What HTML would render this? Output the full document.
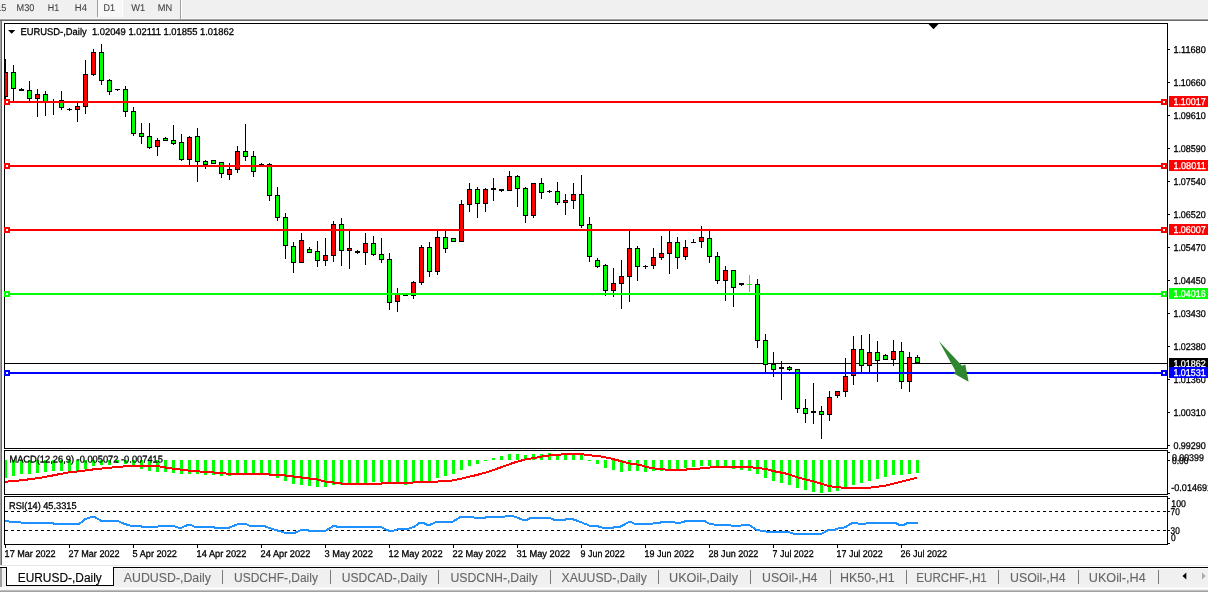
<!DOCTYPE html>
<html lang="en"><head><meta charset="utf-8"><title>EURUSD-,Daily</title>
<style>
html,body{margin:0;padding:0;background:#fff;overflow:hidden}
svg{display:block;position:absolute;left:0;top:0}
text{font-family:"Liberation Sans",sans-serif;white-space:pre}
</style></head><body>
<svg width="1208" height="592" viewBox="0 0 1208 592">
<rect x="0" y="0" width="1208" height="592" fill="#ffffff"/>
<rect x="0" y="0" width="1208" height="19" fill="#f0f0f0"/>
<rect x="0" y="18" width="1208" height="1" fill="#f6f6f6"/>
<rect x="0" y="19" width="1208" height="1" fill="#a0a0a0"/>
<rect x="0" y="20" width="1208" height="1" fill="#696969"/>
<rect x="0" y="21" width="1" height="544" fill="#a0a0a0"/>
<rect x="1" y="21" width="1" height="544" fill="#696969"/>
<rect x="97" y="0" width="1" height="17" fill="#a0a0a0"/>
<rect x="98" y="0" width="24" height="17" fill="#f8f8f8"/>
<rect x="122" y="0" width="1" height="17" fill="#ffffff"/>
<rect x="180" y="0" width="1" height="19" fill="#a0a0a0"/>
<rect x="181" y="0" width="1" height="19" fill="#ffffff"/>
<text transform="translate(-11.4 11) scale(1 1.0) rotate(0.03)" font-size="9.8" fill="#404040" textLength="17.8" lengthAdjust="spacingAndGlyphs" stroke="#404040" stroke-width="0.08">M15</text>
<text transform="translate(16.6 11) scale(1 1.0) rotate(0.03)" font-size="9.8" fill="#404040" textLength="17.8" lengthAdjust="spacingAndGlyphs" stroke="#404040" stroke-width="0.08">M30</text>
<text transform="translate(47.7 11) scale(1 1.0) rotate(0.03)" font-size="9.8" fill="#404040" textLength="11.4" lengthAdjust="spacingAndGlyphs" stroke="#404040" stroke-width="0.08">H1</text>
<text transform="translate(74.8 11) scale(1 1.0) rotate(0.03)" font-size="9.8" fill="#404040" textLength="12.1" lengthAdjust="spacingAndGlyphs" stroke="#404040" stroke-width="0.08">H4</text>
<text transform="translate(103.6 11) scale(1 1.0) rotate(0.03)" font-size="9.8" fill="#404040" textLength="11.5" lengthAdjust="spacingAndGlyphs" stroke="#404040" stroke-width="0.08">D1</text>
<text transform="translate(131.3 11) scale(1 1.0) rotate(0.03)" font-size="9.8" fill="#404040" textLength="13.9" lengthAdjust="spacingAndGlyphs" stroke="#404040" stroke-width="0.08">W1</text>
<text transform="translate(157.8 11) scale(1 1.0) rotate(0.03)" font-size="9.8" fill="#404040" textLength="14.4" lengthAdjust="spacingAndGlyphs" stroke="#404040" stroke-width="0.08">MN</text>
<rect x="0" y="565" width="1208" height="1" fill="#e6e6e6"/>
<rect x="0" y="566" width="1208" height="1" fill="#ffffff"/>
<rect x="0" y="567" width="1208" height="1" fill="#000000"/>
<rect x="0" y="568" width="1208" height="20" fill="#f0f0f0"/>
<rect x="0" y="568" width="1208" height="1" fill="#f8f8f8"/>
<rect x="0" y="587" width="1208" height="1" fill="#f8f8f8"/>
<rect x="0" y="588" width="1208" height="1" fill="#fcfcfc"/>
<rect x="0" y="589" width="1208" height="1" fill="#f0f0f0"/>
<rect x="0" y="590" width="1208" height="1" fill="#c0c0c0"/>
<rect x="0" y="591" width="1208" height="1" fill="#a0a0a0"/>
<rect x="0" y="568" width="2" height="19" fill="#a0a0a0"/>
<rect x="6" y="567" width="108" height="19" fill="#000000"/>
<rect x="7" y="566" width="106" height="19" fill="#ffffff"/>
<text x="17.7" y="582" font-size="12.5" fill="#000" textLength="84.1" lengthAdjust="spacingAndGlyphs" stroke="#000" stroke-width="0.15">EURUSD-,Daily</text>
<text x="123.8" y="582" font-size="12.5" fill="#666666" textLength="87.1" lengthAdjust="spacingAndGlyphs" stroke="#666666" stroke-width="0.1">AUDUSD-,Daily</text>
<text x="234.1" y="582" font-size="12.5" fill="#666666" textLength="83.8" lengthAdjust="spacingAndGlyphs" stroke="#666666" stroke-width="0.1">USDCHF-,Daily</text>
<text x="341.7" y="582" font-size="12.5" fill="#666666" textLength="85.5" lengthAdjust="spacingAndGlyphs" stroke="#666666" stroke-width="0.1">USDCAD-,Daily</text>
<text x="450.5" y="582" font-size="12.5" fill="#666666" textLength="87.1" lengthAdjust="spacingAndGlyphs" stroke="#666666" stroke-width="0.1">USDCNH-,Daily</text>
<text x="561.5" y="582" font-size="12.5" fill="#666666" textLength="85.4" lengthAdjust="spacingAndGlyphs" stroke="#666666" stroke-width="0.1">XAUUSD-,Daily</text>
<text x="669" y="582" font-size="12.5" fill="#666666" textLength="69" lengthAdjust="spacingAndGlyphs" stroke="#666666" stroke-width="0.1">UKOil-,Daily</text>
<text x="762" y="582" font-size="12.5" fill="#666666" textLength="55.4" lengthAdjust="spacingAndGlyphs" stroke="#666666" stroke-width="0.1">USOil-,H4</text>
<text x="840" y="582" font-size="12.5" fill="#666666" textLength="54.8" lengthAdjust="spacingAndGlyphs" stroke="#666666" stroke-width="0.1">HK50-,H1</text>
<text x="916.3" y="582" font-size="12.5" fill="#666666" textLength="70.5" lengthAdjust="spacingAndGlyphs" stroke="#666666" stroke-width="0.1">EURCHF-,H1</text>
<text x="1010" y="582" font-size="12.5" fill="#666666" textLength="55.6" lengthAdjust="spacingAndGlyphs" stroke="#666666" stroke-width="0.1">USOil-,H4</text>
<text x="1088.8" y="582" font-size="12.5" fill="#666666" textLength="56.9" lengthAdjust="spacingAndGlyphs" stroke="#666666" stroke-width="0.1">UKOil-,H4</text>
<rect x="222" y="570" width="1" height="14" fill="#7a7a7a"/>
<rect x="330" y="570" width="1" height="14" fill="#7a7a7a"/>
<rect x="438" y="570" width="1" height="14" fill="#7a7a7a"/>
<rect x="550" y="570" width="1" height="14" fill="#7a7a7a"/>
<rect x="658" y="570" width="1" height="14" fill="#7a7a7a"/>
<rect x="750" y="570" width="1" height="14" fill="#7a7a7a"/>
<rect x="830" y="570" width="1" height="14" fill="#7a7a7a"/>
<rect x="906" y="570" width="1" height="14" fill="#7a7a7a"/>
<rect x="998" y="570" width="1" height="14" fill="#7a7a7a"/>
<rect x="1078" y="570" width="1" height="14" fill="#7a7a7a"/>
<rect x="1158" y="570" width="1" height="14" fill="#7a7a7a"/>
<polygon points="1186.3,572.5 1186.3,579.5 1182.5,576" fill="#000"/>
<polygon points="1202,572.5 1202,579.5 1205.5,576" fill="#a8a8a8"/>
<g shape-rendering="crispEdges">
<rect x="4" y="23" width="1164" height="1" fill="#000"/>
<rect x="4" y="23" width="1" height="426" fill="#000"/>
<rect x="4" y="450" width="1" height="45" fill="#000"/>
<rect x="4" y="496" width="1" height="49" fill="#000"/>
<rect x="1167" y="23" width="1" height="426" fill="#000"/>
<rect x="1167" y="450" width="1" height="45" fill="#000"/>
<rect x="1167" y="496" width="1" height="49" fill="#000"/>
<rect x="4" y="448" width="1164" height="1" fill="#000"/>
<rect x="4" y="450" width="1164" height="1" fill="#000"/>
<rect x="4" y="494" width="1164" height="1" fill="#000"/>
<rect x="4" y="496" width="1164" height="1" fill="#000"/>
<rect x="4" y="544" width="1164" height="1" fill="#000"/>
<rect x="1168" y="49" width="2" height="1" fill="#000"/>
<rect x="1168" y="82" width="2" height="1" fill="#000"/>
<rect x="1168" y="115" width="2" height="1" fill="#000"/>
<rect x="1168" y="148" width="2" height="1" fill="#000"/>
<rect x="1168" y="181" width="2" height="1" fill="#000"/>
<rect x="1168" y="214" width="2" height="1" fill="#000"/>
<rect x="1168" y="247" width="2" height="1" fill="#000"/>
<rect x="1168" y="280" width="2" height="1" fill="#000"/>
<rect x="1168" y="313" width="2" height="1" fill="#000"/>
<rect x="1168" y="346" width="2" height="1" fill="#000"/>
<rect x="1168" y="379" width="2" height="1" fill="#000"/>
<rect x="1168" y="412" width="2" height="1" fill="#000"/>
<rect x="1168" y="445" width="2" height="1" fill="#000"/>
<rect x="1168" y="452" width="2" height="1" fill="#000"/>
<rect x="1168" y="460" width="2" height="1" fill="#000"/>
<rect x="1168" y="493" width="2" height="1" fill="#000"/>
<rect x="1168" y="498" width="2" height="1" fill="#000"/>
<rect x="1168" y="511" width="2" height="1" fill="#000"/>
<rect x="1168" y="530" width="2" height="1" fill="#000"/>
<rect x="1168" y="543" width="2" height="1" fill="#000"/>
<rect x="5" y="545" width="1" height="3" fill="#000"/>
<rect x="69" y="545" width="1" height="3" fill="#000"/>
<rect x="133" y="545" width="1" height="3" fill="#000"/>
<rect x="197" y="545" width="1" height="3" fill="#000"/>
<rect x="261" y="545" width="1" height="3" fill="#000"/>
<rect x="325" y="545" width="1" height="3" fill="#000"/>
<rect x="389" y="545" width="1" height="3" fill="#000"/>
<rect x="453" y="545" width="1" height="3" fill="#000"/>
<rect x="517" y="545" width="1" height="3" fill="#000"/>
<rect x="581" y="545" width="1" height="3" fill="#000"/>
<rect x="645" y="545" width="1" height="3" fill="#000"/>
<rect x="709" y="545" width="1" height="3" fill="#000"/>
<rect x="773" y="545" width="1" height="3" fill="#000"/>
<rect x="837" y="545" width="1" height="3" fill="#000"/>
<rect x="901" y="545" width="1" height="3" fill="#000"/>
<rect x="5" y="363" width="1162" height="1" fill="#000"/>
<rect x="5" y="59" width="1" height="40" fill="#000"/>
<rect x="3" y="72" width="5" height="25" fill="#000"/>
<rect x="4" y="73" width="3" height="23" fill="#ff0000"/>
<rect x="13" y="65" width="1" height="36" fill="#000"/>
<rect x="11" y="72" width="5" height="17" fill="#000"/>
<rect x="12" y="73" width="3" height="15" fill="#00ff00"/>
<rect x="21" y="88" width="1" height="3" fill="#000"/>
<rect x="19" y="89" width="5" height="2" fill="#000"/>
<rect x="29" y="81" width="1" height="20" fill="#000"/>
<rect x="27" y="90" width="5" height="9" fill="#000"/>
<rect x="28" y="91" width="3" height="7" fill="#00ff00"/>
<rect x="37" y="89" width="1" height="28" fill="#000"/>
<rect x="35" y="94" width="5" height="5" fill="#000"/>
<rect x="36" y="95" width="3" height="3" fill="#ff0000"/>
<rect x="45" y="91" width="1" height="25" fill="#000"/>
<rect x="43" y="94" width="5" height="9" fill="#000"/>
<rect x="44" y="95" width="3" height="7" fill="#00ff00"/>
<rect x="53" y="99" width="1" height="16" fill="#000"/>
<rect x="51" y="101" width="5" height="1" fill="#000"/>
<rect x="61" y="91" width="1" height="19" fill="#000"/>
<rect x="59" y="100" width="5" height="8" fill="#000"/>
<rect x="60" y="101" width="3" height="6" fill="#00ff00"/>
<rect x="69" y="108" width="1" height="3" fill="#000"/>
<rect x="67" y="109" width="5" height="1" fill="#000"/>
<rect x="77" y="103" width="1" height="19" fill="#000"/>
<rect x="75" y="106" width="5" height="4" fill="#000"/>
<rect x="76" y="107" width="3" height="2" fill="#ff0000"/>
<rect x="85" y="60" width="1" height="54" fill="#000"/>
<rect x="83" y="74" width="5" height="33" fill="#000"/>
<rect x="84" y="75" width="3" height="31" fill="#ff0000"/>
<rect x="93" y="49" width="1" height="27" fill="#000"/>
<rect x="91" y="52" width="5" height="23" fill="#000"/>
<rect x="92" y="53" width="3" height="21" fill="#ff0000"/>
<rect x="101" y="44" width="1" height="41" fill="#000"/>
<rect x="99" y="52" width="5" height="29" fill="#000"/>
<rect x="100" y="53" width="3" height="27" fill="#00ff00"/>
<rect x="109" y="79" width="1" height="16" fill="#000"/>
<rect x="107" y="80" width="5" height="12" fill="#000"/>
<rect x="108" y="81" width="3" height="10" fill="#00ff00"/>
<rect x="117" y="89" width="1" height="2" fill="#000"/>
<rect x="115" y="89" width="5" height="1" fill="#000"/>
<rect x="125" y="86" width="1" height="31" fill="#000"/>
<rect x="123" y="89" width="5" height="23" fill="#000"/>
<rect x="124" y="90" width="3" height="21" fill="#00ff00"/>
<rect x="133" y="107" width="1" height="29" fill="#000"/>
<rect x="131" y="111" width="5" height="23" fill="#000"/>
<rect x="132" y="112" width="3" height="21" fill="#00ff00"/>
<rect x="141" y="123" width="1" height="21" fill="#000"/>
<rect x="139" y="133" width="5" height="4" fill="#000"/>
<rect x="140" y="134" width="3" height="2" fill="#00ff00"/>
<rect x="149" y="123" width="1" height="26" fill="#000"/>
<rect x="147" y="136" width="5" height="12" fill="#000"/>
<rect x="148" y="137" width="3" height="10" fill="#00ff00"/>
<rect x="157" y="138" width="1" height="18" fill="#000"/>
<rect x="155" y="140" width="5" height="7" fill="#000"/>
<rect x="156" y="141" width="3" height="5" fill="#ff0000"/>
<rect x="165" y="137" width="1" height="4" fill="#000"/>
<rect x="163" y="138" width="5" height="3" fill="#000"/>
<rect x="164" y="139" width="3" height="1" fill="#00ff00"/>
<rect x="173" y="125" width="1" height="20" fill="#000"/>
<rect x="171" y="140" width="5" height="4" fill="#000"/>
<rect x="172" y="141" width="3" height="2" fill="#00ff00"/>
<rect x="181" y="134" width="1" height="27" fill="#000"/>
<rect x="179" y="142" width="5" height="18" fill="#000"/>
<rect x="180" y="143" width="3" height="16" fill="#00ff00"/>
<rect x="189" y="136" width="1" height="29" fill="#000"/>
<rect x="187" y="137" width="5" height="23" fill="#000"/>
<rect x="188" y="138" width="3" height="21" fill="#ff0000"/>
<rect x="197" y="128" width="1" height="54" fill="#000"/>
<rect x="195" y="136" width="5" height="26" fill="#000"/>
<rect x="196" y="137" width="3" height="24" fill="#00ff00"/>
<rect x="205" y="160" width="1" height="9" fill="#000"/>
<rect x="203" y="161" width="5" height="4" fill="#000"/>
<rect x="204" y="162" width="3" height="2" fill="#00ff00"/>
<rect x="213" y="160" width="1" height="4" fill="#000"/>
<rect x="211" y="160" width="5" height="4" fill="#000"/>
<rect x="212" y="161" width="3" height="2" fill="#00ff00"/>
<rect x="221" y="162" width="1" height="16" fill="#000"/>
<rect x="219" y="162" width="5" height="12" fill="#000"/>
<rect x="220" y="163" width="3" height="10" fill="#00ff00"/>
<rect x="229" y="163" width="1" height="17" fill="#000"/>
<rect x="227" y="169" width="5" height="6" fill="#000"/>
<rect x="228" y="170" width="3" height="4" fill="#ff0000"/>
<rect x="237" y="146" width="1" height="27" fill="#000"/>
<rect x="235" y="151" width="5" height="19" fill="#000"/>
<rect x="236" y="152" width="3" height="17" fill="#ff0000"/>
<rect x="245" y="124" width="1" height="37" fill="#000"/>
<rect x="243" y="151" width="5" height="6" fill="#000"/>
<rect x="244" y="152" width="3" height="4" fill="#00ff00"/>
<rect x="253" y="151" width="1" height="26" fill="#000"/>
<rect x="251" y="156" width="5" height="16" fill="#000"/>
<rect x="252" y="157" width="3" height="14" fill="#00ff00"/>
<rect x="261" y="163" width="1" height="2" fill="#000"/>
<rect x="259" y="164" width="5" height="1" fill="#000"/>
<rect x="269" y="163" width="1" height="38" fill="#000"/>
<rect x="267" y="164" width="5" height="32" fill="#000"/>
<rect x="268" y="165" width="3" height="30" fill="#00ff00"/>
<rect x="277" y="187" width="1" height="34" fill="#000"/>
<rect x="275" y="195" width="5" height="23" fill="#000"/>
<rect x="276" y="196" width="3" height="21" fill="#00ff00"/>
<rect x="285" y="213" width="1" height="46" fill="#000"/>
<rect x="283" y="217" width="5" height="29" fill="#000"/>
<rect x="284" y="218" width="3" height="27" fill="#00ff00"/>
<rect x="293" y="242" width="1" height="31" fill="#000"/>
<rect x="291" y="246" width="5" height="17" fill="#000"/>
<rect x="292" y="247" width="3" height="15" fill="#00ff00"/>
<rect x="301" y="233" width="1" height="30" fill="#000"/>
<rect x="299" y="240" width="5" height="23" fill="#000"/>
<rect x="300" y="241" width="3" height="21" fill="#ff0000"/>
<rect x="309" y="247" width="1" height="6" fill="#000"/>
<rect x="307" y="249" width="5" height="4" fill="#000"/>
<rect x="308" y="250" width="3" height="2" fill="#00ff00"/>
<rect x="317" y="241" width="1" height="26" fill="#000"/>
<rect x="315" y="251" width="5" height="10" fill="#000"/>
<rect x="316" y="252" width="3" height="8" fill="#00ff00"/>
<rect x="325" y="238" width="1" height="28" fill="#000"/>
<rect x="323" y="255" width="5" height="6" fill="#000"/>
<rect x="324" y="256" width="3" height="4" fill="#ff0000"/>
<rect x="333" y="221" width="1" height="41" fill="#000"/>
<rect x="331" y="224" width="5" height="32" fill="#000"/>
<rect x="332" y="225" width="3" height="30" fill="#ff0000"/>
<rect x="341" y="218" width="1" height="48" fill="#000"/>
<rect x="339" y="224" width="5" height="27" fill="#000"/>
<rect x="340" y="225" width="3" height="25" fill="#00ff00"/>
<rect x="349" y="231" width="1" height="38" fill="#000"/>
<rect x="347" y="248" width="5" height="3" fill="#000"/>
<rect x="348" y="249" width="3" height="1" fill="#ff0000"/>
<rect x="357" y="250" width="1" height="4" fill="#000"/>
<rect x="355" y="251" width="5" height="2" fill="#000"/>
<rect x="365" y="233" width="1" height="32" fill="#000"/>
<rect x="363" y="243" width="5" height="10" fill="#000"/>
<rect x="364" y="244" width="3" height="8" fill="#ff0000"/>
<rect x="373" y="236" width="1" height="20" fill="#000"/>
<rect x="371" y="243" width="5" height="12" fill="#000"/>
<rect x="372" y="244" width="3" height="10" fill="#00ff00"/>
<rect x="381" y="238" width="1" height="25" fill="#000"/>
<rect x="379" y="254" width="5" height="6" fill="#000"/>
<rect x="380" y="255" width="3" height="4" fill="#00ff00"/>
<rect x="389" y="253" width="1" height="57" fill="#000"/>
<rect x="387" y="259" width="5" height="44" fill="#000"/>
<rect x="388" y="260" width="3" height="42" fill="#00ff00"/>
<rect x="397" y="288" width="1" height="24" fill="#000"/>
<rect x="395" y="294" width="5" height="8" fill="#000"/>
<rect x="396" y="295" width="3" height="6" fill="#ff0000"/>
<rect x="405" y="295" width="1" height="1" fill="#000"/>
<rect x="403" y="295" width="5" height="1" fill="#000"/>
<rect x="413" y="281" width="1" height="18" fill="#000"/>
<rect x="411" y="282" width="5" height="14" fill="#000"/>
<rect x="412" y="283" width="3" height="12" fill="#ff0000"/>
<rect x="421" y="245" width="1" height="40" fill="#000"/>
<rect x="419" y="247" width="5" height="36" fill="#000"/>
<rect x="420" y="248" width="3" height="34" fill="#ff0000"/>
<rect x="429" y="242" width="1" height="35" fill="#000"/>
<rect x="427" y="247" width="5" height="25" fill="#000"/>
<rect x="428" y="248" width="3" height="23" fill="#00ff00"/>
<rect x="437" y="231" width="1" height="44" fill="#000"/>
<rect x="435" y="237" width="5" height="35" fill="#000"/>
<rect x="436" y="238" width="3" height="33" fill="#ff0000"/>
<rect x="445" y="231" width="1" height="22" fill="#000"/>
<rect x="443" y="237" width="5" height="12" fill="#000"/>
<rect x="444" y="238" width="3" height="10" fill="#00ff00"/>
<rect x="453" y="238" width="1" height="4" fill="#000"/>
<rect x="451" y="238" width="5" height="4" fill="#000"/>
<rect x="452" y="239" width="3" height="2" fill="#00ff00"/>
<rect x="461" y="200" width="1" height="42" fill="#000"/>
<rect x="459" y="204" width="5" height="38" fill="#000"/>
<rect x="460" y="205" width="3" height="36" fill="#ff0000"/>
<rect x="469" y="183" width="1" height="29" fill="#000"/>
<rect x="467" y="189" width="5" height="16" fill="#000"/>
<rect x="468" y="190" width="3" height="14" fill="#ff0000"/>
<rect x="477" y="187" width="1" height="31" fill="#000"/>
<rect x="475" y="189" width="5" height="15" fill="#000"/>
<rect x="476" y="190" width="3" height="13" fill="#00ff00"/>
<rect x="485" y="188" width="1" height="24" fill="#000"/>
<rect x="483" y="189" width="5" height="15" fill="#000"/>
<rect x="484" y="190" width="3" height="13" fill="#ff0000"/>
<rect x="493" y="178" width="1" height="23" fill="#000"/>
<rect x="491" y="188" width="5" height="2" fill="#000"/>
<rect x="501" y="189" width="1" height="3" fill="#000"/>
<rect x="499" y="189" width="5" height="2" fill="#000"/>
<rect x="509" y="171" width="1" height="20" fill="#000"/>
<rect x="507" y="176" width="5" height="15" fill="#000"/>
<rect x="508" y="177" width="3" height="13" fill="#ff0000"/>
<rect x="517" y="175" width="1" height="32" fill="#000"/>
<rect x="515" y="176" width="5" height="13" fill="#000"/>
<rect x="516" y="177" width="3" height="11" fill="#00ff00"/>
<rect x="525" y="187" width="1" height="36" fill="#000"/>
<rect x="523" y="188" width="5" height="28" fill="#000"/>
<rect x="524" y="189" width="3" height="26" fill="#00ff00"/>
<rect x="533" y="183" width="1" height="35" fill="#000"/>
<rect x="531" y="183" width="5" height="33" fill="#000"/>
<rect x="532" y="184" width="3" height="31" fill="#ff0000"/>
<rect x="541" y="178" width="1" height="21" fill="#000"/>
<rect x="539" y="183" width="5" height="10" fill="#000"/>
<rect x="540" y="184" width="3" height="8" fill="#00ff00"/>
<rect x="549" y="190" width="1" height="3" fill="#000"/>
<rect x="547" y="191" width="5" height="1" fill="#000"/>
<rect x="557" y="182" width="1" height="23" fill="#000"/>
<rect x="555" y="191" width="5" height="12" fill="#000"/>
<rect x="556" y="192" width="3" height="10" fill="#00ff00"/>
<rect x="565" y="194" width="1" height="21" fill="#000"/>
<rect x="563" y="200" width="5" height="3" fill="#000"/>
<rect x="564" y="201" width="3" height="1" fill="#ff0000"/>
<rect x="573" y="183" width="1" height="26" fill="#000"/>
<rect x="571" y="194" width="5" height="7" fill="#000"/>
<rect x="572" y="195" width="3" height="5" fill="#ff0000"/>
<rect x="581" y="175" width="1" height="53" fill="#000"/>
<rect x="579" y="194" width="5" height="32" fill="#000"/>
<rect x="580" y="195" width="3" height="30" fill="#00ff00"/>
<rect x="589" y="217" width="1" height="45" fill="#000"/>
<rect x="587" y="224" width="5" height="33" fill="#000"/>
<rect x="588" y="225" width="3" height="31" fill="#00ff00"/>
<rect x="597" y="258" width="1" height="10" fill="#000"/>
<rect x="595" y="260" width="5" height="7" fill="#000"/>
<rect x="596" y="261" width="3" height="5" fill="#00ff00"/>
<rect x="605" y="264" width="1" height="32" fill="#000"/>
<rect x="603" y="265" width="5" height="26" fill="#000"/>
<rect x="604" y="266" width="3" height="24" fill="#00ff00"/>
<rect x="613" y="268" width="1" height="29" fill="#000"/>
<rect x="611" y="283" width="5" height="8" fill="#000"/>
<rect x="612" y="284" width="3" height="6" fill="#ff0000"/>
<rect x="621" y="260" width="1" height="49" fill="#000"/>
<rect x="619" y="276" width="5" height="8" fill="#000"/>
<rect x="620" y="277" width="3" height="6" fill="#ff0000"/>
<rect x="629" y="231" width="1" height="71" fill="#000"/>
<rect x="627" y="248" width="5" height="29" fill="#000"/>
<rect x="628" y="249" width="3" height="27" fill="#ff0000"/>
<rect x="637" y="246" width="1" height="35" fill="#000"/>
<rect x="635" y="248" width="5" height="19" fill="#000"/>
<rect x="636" y="249" width="3" height="17" fill="#00ff00"/>
<rect x="645" y="265" width="1" height="4" fill="#000"/>
<rect x="643" y="266" width="5" height="1" fill="#000"/>
<rect x="653" y="248" width="1" height="21" fill="#000"/>
<rect x="651" y="257" width="5" height="9" fill="#000"/>
<rect x="652" y="258" width="3" height="7" fill="#ff0000"/>
<rect x="661" y="236" width="1" height="24" fill="#000"/>
<rect x="659" y="253" width="5" height="5" fill="#000"/>
<rect x="660" y="254" width="3" height="3" fill="#ff0000"/>
<rect x="669" y="231" width="1" height="43" fill="#000"/>
<rect x="667" y="242" width="5" height="12" fill="#000"/>
<rect x="668" y="243" width="3" height="10" fill="#ff0000"/>
<rect x="677" y="237" width="1" height="32" fill="#000"/>
<rect x="675" y="242" width="5" height="16" fill="#000"/>
<rect x="676" y="243" width="3" height="14" fill="#00ff00"/>
<rect x="685" y="240" width="1" height="20" fill="#000"/>
<rect x="683" y="247" width="5" height="10" fill="#000"/>
<rect x="684" y="248" width="3" height="8" fill="#ff0000"/>
<rect x="693" y="239" width="1" height="4" fill="#000"/>
<rect x="691" y="242" width="5" height="1" fill="#000"/>
<rect x="701" y="226" width="1" height="22" fill="#000"/>
<rect x="699" y="237" width="5" height="5" fill="#000"/>
<rect x="700" y="238" width="3" height="3" fill="#ff0000"/>
<rect x="709" y="231" width="1" height="32" fill="#000"/>
<rect x="707" y="238" width="5" height="19" fill="#000"/>
<rect x="708" y="239" width="3" height="17" fill="#00ff00"/>
<rect x="717" y="252" width="1" height="32" fill="#000"/>
<rect x="715" y="256" width="5" height="25" fill="#000"/>
<rect x="716" y="257" width="3" height="23" fill="#00ff00"/>
<rect x="725" y="266" width="1" height="35" fill="#000"/>
<rect x="723" y="270" width="5" height="11" fill="#000"/>
<rect x="724" y="271" width="3" height="9" fill="#ff0000"/>
<rect x="733" y="270" width="1" height="37" fill="#000"/>
<rect x="731" y="270" width="5" height="18" fill="#000"/>
<rect x="732" y="271" width="3" height="16" fill="#00ff00"/>
<rect x="741" y="283" width="1" height="3" fill="#000"/>
<rect x="739" y="283" width="5" height="2" fill="#000"/>
<rect x="749" y="275" width="1" height="17" fill="#00ff00"/>
<rect x="747" y="284" width="5" height="1" fill="#00ff00"/>
<rect x="757" y="279" width="1" height="69" fill="#000"/>
<rect x="755" y="284" width="5" height="57" fill="#000"/>
<rect x="756" y="285" width="3" height="55" fill="#00ff00"/>
<rect x="765" y="334" width="1" height="38" fill="#000"/>
<rect x="763" y="340" width="5" height="25" fill="#000"/>
<rect x="764" y="341" width="3" height="23" fill="#00ff00"/>
<rect x="773" y="352" width="1" height="25" fill="#000"/>
<rect x="771" y="364" width="5" height="6" fill="#000"/>
<rect x="772" y="365" width="3" height="4" fill="#00ff00"/>
<rect x="781" y="361" width="1" height="39" fill="#000"/>
<rect x="779" y="367" width="5" height="2" fill="#000"/>
<rect x="789" y="366" width="1" height="5" fill="#000"/>
<rect x="787" y="367" width="5" height="3" fill="#000"/>
<rect x="788" y="368" width="3" height="1" fill="#00ff00"/>
<rect x="797" y="369" width="1" height="44" fill="#000"/>
<rect x="795" y="369" width="5" height="40" fill="#000"/>
<rect x="796" y="370" width="3" height="38" fill="#00ff00"/>
<rect x="805" y="399" width="1" height="24" fill="#000"/>
<rect x="803" y="408" width="5" height="6" fill="#000"/>
<rect x="804" y="409" width="3" height="4" fill="#00ff00"/>
<rect x="813" y="383" width="1" height="41" fill="#000"/>
<rect x="811" y="411" width="5" height="2" fill="#000"/>
<rect x="821" y="406" width="1" height="33" fill="#000"/>
<rect x="819" y="411" width="5" height="4" fill="#000"/>
<rect x="820" y="412" width="3" height="2" fill="#00ff00"/>
<rect x="829" y="391" width="1" height="30" fill="#000"/>
<rect x="827" y="397" width="5" height="18" fill="#000"/>
<rect x="828" y="398" width="3" height="16" fill="#ff0000"/>
<rect x="837" y="391" width="1" height="7" fill="#000"/>
<rect x="835" y="391" width="5" height="5" fill="#000"/>
<rect x="836" y="392" width="3" height="3" fill="#ff0000"/>
<rect x="845" y="358" width="1" height="39" fill="#000"/>
<rect x="843" y="376" width="5" height="16" fill="#000"/>
<rect x="844" y="377" width="3" height="14" fill="#ff0000"/>
<rect x="853" y="336" width="1" height="49" fill="#000"/>
<rect x="851" y="349" width="5" height="27" fill="#000"/>
<rect x="852" y="350" width="3" height="25" fill="#ff0000"/>
<rect x="861" y="335" width="1" height="37" fill="#000"/>
<rect x="859" y="349" width="5" height="17" fill="#000"/>
<rect x="860" y="350" width="3" height="15" fill="#00ff00"/>
<rect x="869" y="334" width="1" height="38" fill="#000"/>
<rect x="867" y="352" width="5" height="14" fill="#000"/>
<rect x="868" y="353" width="3" height="12" fill="#ff0000"/>
<rect x="877" y="341" width="1" height="41" fill="#000"/>
<rect x="875" y="352" width="5" height="9" fill="#000"/>
<rect x="876" y="353" width="3" height="7" fill="#00ff00"/>
<rect x="885" y="354" width="1" height="6" fill="#000"/>
<rect x="883" y="355" width="5" height="5" fill="#000"/>
<rect x="884" y="356" width="3" height="3" fill="#00ff00"/>
<rect x="893" y="340" width="1" height="26" fill="#000"/>
<rect x="891" y="351" width="5" height="9" fill="#000"/>
<rect x="892" y="352" width="3" height="7" fill="#ff0000"/>
<rect x="901" y="342" width="1" height="47" fill="#000"/>
<rect x="899" y="351" width="5" height="31" fill="#000"/>
<rect x="900" y="352" width="3" height="29" fill="#00ff00"/>
<rect x="909" y="352" width="1" height="40" fill="#000"/>
<rect x="907" y="357" width="5" height="25" fill="#000"/>
<rect x="908" y="358" width="3" height="23" fill="#ff0000"/>
<rect x="917" y="355" width="1" height="8" fill="#000"/>
<rect x="915" y="357" width="5" height="6" fill="#000"/>
<rect x="916" y="358" width="3" height="4" fill="#00ff00"/>
<rect x="2" y="24" width="2" height="424" fill="#fff"/>
<rect x="4" y="23" width="1" height="426" fill="#000"/>
<rect x="4" y="450" width="1" height="45" fill="#000"/>
<rect x="4" y="496" width="1" height="49" fill="#000"/>
<rect x="1167" y="23" width="1" height="426" fill="#000"/>
<rect x="1167" y="450" width="1" height="45" fill="#000"/>
<rect x="1167" y="496" width="1" height="49" fill="#000"/>
<rect x="5" y="101" width="1162" height="2" fill="#ff0000"/>
<rect x="4" y="99" width="6" height="6" fill="#ff0000"/>
<rect x="6" y="101" width="2" height="2" fill="#fff"/>
<rect x="1161" y="99" width="6" height="6" fill="#ff0000"/>
<rect x="1163" y="101" width="2" height="2" fill="#fff"/>
<rect x="1169" y="96" width="39" height="11" fill="#ff0000"/>
<rect x="5" y="165" width="1162" height="2" fill="#ff0000"/>
<rect x="4" y="163" width="6" height="6" fill="#ff0000"/>
<rect x="6" y="165" width="2" height="2" fill="#fff"/>
<rect x="1161" y="163" width="6" height="6" fill="#ff0000"/>
<rect x="1163" y="165" width="2" height="2" fill="#fff"/>
<rect x="1169" y="160" width="39" height="11" fill="#ff0000"/>
<rect x="5" y="229" width="1162" height="2" fill="#ff0000"/>
<rect x="4" y="227" width="6" height="6" fill="#ff0000"/>
<rect x="6" y="229" width="2" height="2" fill="#fff"/>
<rect x="1161" y="227" width="6" height="6" fill="#ff0000"/>
<rect x="1163" y="229" width="2" height="2" fill="#fff"/>
<rect x="1169" y="224" width="39" height="11" fill="#ff0000"/>
<rect x="5" y="293" width="1162" height="2" fill="#00ff00"/>
<rect x="4" y="291" width="6" height="6" fill="#00ff00"/>
<rect x="6" y="293" width="2" height="2" fill="#fff"/>
<rect x="1161" y="291" width="6" height="6" fill="#00ff00"/>
<rect x="1163" y="293" width="2" height="2" fill="#fff"/>
<rect x="1169" y="288" width="39" height="11" fill="#00ff00"/>
<rect x="1169" y="358" width="39" height="11" fill="#000"/>
<rect x="5" y="372" width="1162" height="2" fill="#0000ff"/>
<rect x="4" y="370" width="6" height="6" fill="#0000ff"/>
<rect x="6" y="372" width="2" height="2" fill="#fff"/>
<rect x="1161" y="370" width="6" height="6" fill="#0000ff"/>
<rect x="1163" y="372" width="2" height="2" fill="#fff"/>
<rect x="1169" y="367" width="39" height="11" fill="#0000ff"/>
<rect x="4" y="23" width="1" height="426" fill="#000"/>
<rect x="4" y="450" width="1" height="45" fill="#000"/>
<rect x="4" y="496" width="1" height="49" fill="#000"/>
<rect x="1167" y="23" width="1" height="426" fill="#000"/>
<rect x="1167" y="450" width="1" height="45" fill="#000"/>
<rect x="1167" y="496" width="1" height="49" fill="#000"/>
<rect x="4" y="460" width="3" height="18" fill="#00ff00"/>
<rect x="12" y="460" width="3" height="16" fill="#00ff00"/>
<rect x="20" y="460" width="3" height="14" fill="#00ff00"/>
<rect x="28" y="460" width="3" height="14" fill="#00ff00"/>
<rect x="36" y="460" width="3" height="13" fill="#00ff00"/>
<rect x="44" y="460" width="3" height="12" fill="#00ff00"/>
<rect x="52" y="460" width="3" height="11" fill="#00ff00"/>
<rect x="60" y="460" width="3" height="11" fill="#00ff00"/>
<rect x="68" y="460" width="3" height="11" fill="#00ff00"/>
<rect x="76" y="460" width="3" height="11" fill="#00ff00"/>
<rect x="84" y="460" width="3" height="9" fill="#00ff00"/>
<rect x="92" y="460" width="3" height="6" fill="#00ff00"/>
<rect x="100" y="460" width="3" height="5" fill="#00ff00"/>
<rect x="108" y="460" width="3" height="5" fill="#00ff00"/>
<rect x="116" y="460" width="3" height="3" fill="#00ff00"/>
<rect x="124" y="460" width="3" height="4" fill="#00ff00"/>
<rect x="132" y="460" width="3" height="6" fill="#00ff00"/>
<rect x="140" y="460" width="3" height="9" fill="#00ff00"/>
<rect x="148" y="460" width="3" height="11" fill="#00ff00"/>
<rect x="156" y="460" width="3" height="12" fill="#00ff00"/>
<rect x="164" y="460" width="3" height="12" fill="#00ff00"/>
<rect x="172" y="460" width="3" height="13" fill="#00ff00"/>
<rect x="180" y="460" width="3" height="14" fill="#00ff00"/>
<rect x="188" y="460" width="3" height="14" fill="#00ff00"/>
<rect x="196" y="460" width="3" height="14" fill="#00ff00"/>
<rect x="204" y="460" width="3" height="15" fill="#00ff00"/>
<rect x="212" y="460" width="3" height="15" fill="#00ff00"/>
<rect x="220" y="460" width="3" height="16" fill="#00ff00"/>
<rect x="228" y="460" width="3" height="16" fill="#00ff00"/>
<rect x="236" y="460" width="3" height="14" fill="#00ff00"/>
<rect x="244" y="460" width="3" height="14" fill="#00ff00"/>
<rect x="252" y="460" width="3" height="14" fill="#00ff00"/>
<rect x="260" y="460" width="3" height="14" fill="#00ff00"/>
<rect x="268" y="460" width="3" height="15" fill="#00ff00"/>
<rect x="276" y="460" width="3" height="18" fill="#00ff00"/>
<rect x="284" y="460" width="3" height="21" fill="#00ff00"/>
<rect x="292" y="460" width="3" height="24" fill="#00ff00"/>
<rect x="300" y="460" width="3" height="25" fill="#00ff00"/>
<rect x="308" y="460" width="3" height="26" fill="#00ff00"/>
<rect x="316" y="460" width="3" height="27" fill="#00ff00"/>
<rect x="324" y="460" width="3" height="27" fill="#00ff00"/>
<rect x="332" y="460" width="3" height="25" fill="#00ff00"/>
<rect x="340" y="460" width="3" height="25" fill="#00ff00"/>
<rect x="348" y="460" width="3" height="23" fill="#00ff00"/>
<rect x="356" y="460" width="3" height="23" fill="#00ff00"/>
<rect x="364" y="460" width="3" height="23" fill="#00ff00"/>
<rect x="372" y="460" width="3" height="22" fill="#00ff00"/>
<rect x="380" y="460" width="3" height="22" fill="#00ff00"/>
<rect x="388" y="460" width="3" height="23" fill="#00ff00"/>
<rect x="396" y="460" width="3" height="24" fill="#00ff00"/>
<rect x="404" y="460" width="3" height="25" fill="#00ff00"/>
<rect x="412" y="460" width="3" height="23" fill="#00ff00"/>
<rect x="420" y="460" width="3" height="23" fill="#00ff00"/>
<rect x="428" y="460" width="3" height="21" fill="#00ff00"/>
<rect x="436" y="460" width="3" height="18" fill="#00ff00"/>
<rect x="444" y="460" width="3" height="16" fill="#00ff00"/>
<rect x="452" y="460" width="3" height="14" fill="#00ff00"/>
<rect x="460" y="460" width="3" height="10" fill="#00ff00"/>
<rect x="468" y="460" width="3" height="6" fill="#00ff00"/>
<rect x="476" y="460" width="3" height="4" fill="#00ff00"/>
<rect x="484" y="460" width="3" height="1" fill="#00ff00"/>
<rect x="492" y="458" width="3" height="2" fill="#00ff00"/>
<rect x="500" y="456" width="3" height="4" fill="#00ff00"/>
<rect x="508" y="454" width="3" height="6" fill="#00ff00"/>
<rect x="516" y="454" width="3" height="6" fill="#00ff00"/>
<rect x="524" y="455" width="3" height="5" fill="#00ff00"/>
<rect x="532" y="454" width="3" height="6" fill="#00ff00"/>
<rect x="540" y="454" width="3" height="6" fill="#00ff00"/>
<rect x="548" y="453" width="3" height="7" fill="#00ff00"/>
<rect x="556" y="454" width="3" height="6" fill="#00ff00"/>
<rect x="564" y="454" width="3" height="6" fill="#00ff00"/>
<rect x="572" y="454" width="3" height="6" fill="#00ff00"/>
<rect x="580" y="455" width="3" height="5" fill="#00ff00"/>
<rect x="588" y="460" width="3" height="1" fill="#00ff00"/>
<rect x="596" y="460" width="3" height="4" fill="#00ff00"/>
<rect x="604" y="460" width="3" height="8" fill="#00ff00"/>
<rect x="612" y="460" width="3" height="10" fill="#00ff00"/>
<rect x="620" y="460" width="3" height="12" fill="#00ff00"/>
<rect x="628" y="460" width="3" height="11" fill="#00ff00"/>
<rect x="636" y="460" width="3" height="11" fill="#00ff00"/>
<rect x="644" y="460" width="3" height="12" fill="#00ff00"/>
<rect x="652" y="460" width="3" height="11" fill="#00ff00"/>
<rect x="660" y="460" width="3" height="11" fill="#00ff00"/>
<rect x="668" y="460" width="3" height="9" fill="#00ff00"/>
<rect x="676" y="460" width="3" height="10" fill="#00ff00"/>
<rect x="684" y="460" width="3" height="8" fill="#00ff00"/>
<rect x="692" y="460" width="3" height="7" fill="#00ff00"/>
<rect x="700" y="460" width="3" height="6" fill="#00ff00"/>
<rect x="708" y="460" width="3" height="6" fill="#00ff00"/>
<rect x="716" y="460" width="3" height="7" fill="#00ff00"/>
<rect x="724" y="460" width="3" height="7" fill="#00ff00"/>
<rect x="732" y="460" width="3" height="9" fill="#00ff00"/>
<rect x="740" y="460" width="3" height="10" fill="#00ff00"/>
<rect x="748" y="460" width="3" height="11" fill="#00ff00"/>
<rect x="756" y="460" width="3" height="14" fill="#00ff00"/>
<rect x="764" y="460" width="3" height="18" fill="#00ff00"/>
<rect x="772" y="460" width="3" height="21" fill="#00ff00"/>
<rect x="780" y="460" width="3" height="23" fill="#00ff00"/>
<rect x="788" y="460" width="3" height="25" fill="#00ff00"/>
<rect x="796" y="460" width="3" height="28" fill="#00ff00"/>
<rect x="804" y="460" width="3" height="30" fill="#00ff00"/>
<rect x="812" y="460" width="3" height="32" fill="#00ff00"/>
<rect x="820" y="460" width="3" height="33" fill="#00ff00"/>
<rect x="828" y="460" width="3" height="32" fill="#00ff00"/>
<rect x="836" y="460" width="3" height="31" fill="#00ff00"/>
<rect x="844" y="460" width="3" height="28" fill="#00ff00"/>
<rect x="852" y="460" width="3" height="25" fill="#00ff00"/>
<rect x="860" y="460" width="3" height="23" fill="#00ff00"/>
<rect x="868" y="460" width="3" height="21" fill="#00ff00"/>
<rect x="876" y="460" width="3" height="19" fill="#00ff00"/>
<rect x="884" y="460" width="3" height="17" fill="#00ff00"/>
<rect x="892" y="460" width="3" height="15" fill="#00ff00"/>
<rect x="900" y="460" width="3" height="15" fill="#00ff00"/>
<rect x="908" y="460" width="3" height="14" fill="#00ff00"/>
<rect x="916" y="460" width="3" height="13" fill="#00ff00"/>
<rect x="2" y="451" width="2" height="43" fill="#fff"/>
<rect x="4" y="23" width="1" height="426" fill="#000"/>
<rect x="4" y="450" width="1" height="45" fill="#000"/>
<rect x="4" y="496" width="1" height="49" fill="#000"/>
<rect x="1167" y="23" width="1" height="426" fill="#000"/>
<rect x="1167" y="450" width="1" height="45" fill="#000"/>
<rect x="1167" y="496" width="1" height="49" fill="#000"/>
<rect x="5" y="511" width="3" height="1" fill="#000"/>
<rect x="11" y="511" width="3" height="1" fill="#000"/>
<rect x="17" y="511" width="3" height="1" fill="#000"/>
<rect x="23" y="511" width="3" height="1" fill="#000"/>
<rect x="29" y="511" width="3" height="1" fill="#000"/>
<rect x="35" y="511" width="3" height="1" fill="#000"/>
<rect x="41" y="511" width="3" height="1" fill="#000"/>
<rect x="47" y="511" width="3" height="1" fill="#000"/>
<rect x="53" y="511" width="3" height="1" fill="#000"/>
<rect x="59" y="511" width="3" height="1" fill="#000"/>
<rect x="65" y="511" width="3" height="1" fill="#000"/>
<rect x="71" y="511" width="3" height="1" fill="#000"/>
<rect x="77" y="511" width="3" height="1" fill="#000"/>
<rect x="83" y="511" width="3" height="1" fill="#000"/>
<rect x="89" y="511" width="3" height="1" fill="#000"/>
<rect x="95" y="511" width="3" height="1" fill="#000"/>
<rect x="101" y="511" width="3" height="1" fill="#000"/>
<rect x="107" y="511" width="3" height="1" fill="#000"/>
<rect x="113" y="511" width="3" height="1" fill="#000"/>
<rect x="119" y="511" width="3" height="1" fill="#000"/>
<rect x="125" y="511" width="3" height="1" fill="#000"/>
<rect x="131" y="511" width="3" height="1" fill="#000"/>
<rect x="137" y="511" width="3" height="1" fill="#000"/>
<rect x="143" y="511" width="3" height="1" fill="#000"/>
<rect x="149" y="511" width="3" height="1" fill="#000"/>
<rect x="155" y="511" width="3" height="1" fill="#000"/>
<rect x="161" y="511" width="3" height="1" fill="#000"/>
<rect x="167" y="511" width="3" height="1" fill="#000"/>
<rect x="173" y="511" width="3" height="1" fill="#000"/>
<rect x="179" y="511" width="3" height="1" fill="#000"/>
<rect x="185" y="511" width="3" height="1" fill="#000"/>
<rect x="191" y="511" width="3" height="1" fill="#000"/>
<rect x="197" y="511" width="3" height="1" fill="#000"/>
<rect x="203" y="511" width="3" height="1" fill="#000"/>
<rect x="209" y="511" width="3" height="1" fill="#000"/>
<rect x="215" y="511" width="3" height="1" fill="#000"/>
<rect x="221" y="511" width="3" height="1" fill="#000"/>
<rect x="227" y="511" width="3" height="1" fill="#000"/>
<rect x="233" y="511" width="3" height="1" fill="#000"/>
<rect x="239" y="511" width="3" height="1" fill="#000"/>
<rect x="245" y="511" width="3" height="1" fill="#000"/>
<rect x="251" y="511" width="3" height="1" fill="#000"/>
<rect x="257" y="511" width="3" height="1" fill="#000"/>
<rect x="263" y="511" width="3" height="1" fill="#000"/>
<rect x="269" y="511" width="3" height="1" fill="#000"/>
<rect x="275" y="511" width="3" height="1" fill="#000"/>
<rect x="281" y="511" width="3" height="1" fill="#000"/>
<rect x="287" y="511" width="3" height="1" fill="#000"/>
<rect x="293" y="511" width="3" height="1" fill="#000"/>
<rect x="299" y="511" width="3" height="1" fill="#000"/>
<rect x="305" y="511" width="3" height="1" fill="#000"/>
<rect x="311" y="511" width="3" height="1" fill="#000"/>
<rect x="317" y="511" width="3" height="1" fill="#000"/>
<rect x="323" y="511" width="3" height="1" fill="#000"/>
<rect x="329" y="511" width="3" height="1" fill="#000"/>
<rect x="335" y="511" width="3" height="1" fill="#000"/>
<rect x="341" y="511" width="3" height="1" fill="#000"/>
<rect x="347" y="511" width="3" height="1" fill="#000"/>
<rect x="353" y="511" width="3" height="1" fill="#000"/>
<rect x="359" y="511" width="3" height="1" fill="#000"/>
<rect x="365" y="511" width="3" height="1" fill="#000"/>
<rect x="371" y="511" width="3" height="1" fill="#000"/>
<rect x="377" y="511" width="3" height="1" fill="#000"/>
<rect x="383" y="511" width="3" height="1" fill="#000"/>
<rect x="389" y="511" width="3" height="1" fill="#000"/>
<rect x="395" y="511" width="3" height="1" fill="#000"/>
<rect x="401" y="511" width="3" height="1" fill="#000"/>
<rect x="407" y="511" width="3" height="1" fill="#000"/>
<rect x="413" y="511" width="3" height="1" fill="#000"/>
<rect x="419" y="511" width="3" height="1" fill="#000"/>
<rect x="425" y="511" width="3" height="1" fill="#000"/>
<rect x="431" y="511" width="3" height="1" fill="#000"/>
<rect x="437" y="511" width="3" height="1" fill="#000"/>
<rect x="443" y="511" width="3" height="1" fill="#000"/>
<rect x="449" y="511" width="3" height="1" fill="#000"/>
<rect x="455" y="511" width="3" height="1" fill="#000"/>
<rect x="461" y="511" width="3" height="1" fill="#000"/>
<rect x="467" y="511" width="3" height="1" fill="#000"/>
<rect x="473" y="511" width="3" height="1" fill="#000"/>
<rect x="479" y="511" width="3" height="1" fill="#000"/>
<rect x="485" y="511" width="3" height="1" fill="#000"/>
<rect x="491" y="511" width="3" height="1" fill="#000"/>
<rect x="497" y="511" width="3" height="1" fill="#000"/>
<rect x="503" y="511" width="3" height="1" fill="#000"/>
<rect x="509" y="511" width="3" height="1" fill="#000"/>
<rect x="515" y="511" width="3" height="1" fill="#000"/>
<rect x="521" y="511" width="3" height="1" fill="#000"/>
<rect x="527" y="511" width="3" height="1" fill="#000"/>
<rect x="533" y="511" width="3" height="1" fill="#000"/>
<rect x="539" y="511" width="3" height="1" fill="#000"/>
<rect x="545" y="511" width="3" height="1" fill="#000"/>
<rect x="551" y="511" width="3" height="1" fill="#000"/>
<rect x="557" y="511" width="3" height="1" fill="#000"/>
<rect x="563" y="511" width="3" height="1" fill="#000"/>
<rect x="569" y="511" width="3" height="1" fill="#000"/>
<rect x="575" y="511" width="3" height="1" fill="#000"/>
<rect x="581" y="511" width="3" height="1" fill="#000"/>
<rect x="587" y="511" width="3" height="1" fill="#000"/>
<rect x="593" y="511" width="3" height="1" fill="#000"/>
<rect x="599" y="511" width="3" height="1" fill="#000"/>
<rect x="605" y="511" width="3" height="1" fill="#000"/>
<rect x="611" y="511" width="3" height="1" fill="#000"/>
<rect x="617" y="511" width="3" height="1" fill="#000"/>
<rect x="623" y="511" width="3" height="1" fill="#000"/>
<rect x="629" y="511" width="3" height="1" fill="#000"/>
<rect x="635" y="511" width="3" height="1" fill="#000"/>
<rect x="641" y="511" width="3" height="1" fill="#000"/>
<rect x="647" y="511" width="3" height="1" fill="#000"/>
<rect x="653" y="511" width="3" height="1" fill="#000"/>
<rect x="659" y="511" width="3" height="1" fill="#000"/>
<rect x="665" y="511" width="3" height="1" fill="#000"/>
<rect x="671" y="511" width="3" height="1" fill="#000"/>
<rect x="677" y="511" width="3" height="1" fill="#000"/>
<rect x="683" y="511" width="3" height="1" fill="#000"/>
<rect x="689" y="511" width="3" height="1" fill="#000"/>
<rect x="695" y="511" width="3" height="1" fill="#000"/>
<rect x="701" y="511" width="3" height="1" fill="#000"/>
<rect x="707" y="511" width="3" height="1" fill="#000"/>
<rect x="713" y="511" width="3" height="1" fill="#000"/>
<rect x="719" y="511" width="3" height="1" fill="#000"/>
<rect x="725" y="511" width="3" height="1" fill="#000"/>
<rect x="731" y="511" width="3" height="1" fill="#000"/>
<rect x="737" y="511" width="3" height="1" fill="#000"/>
<rect x="743" y="511" width="3" height="1" fill="#000"/>
<rect x="749" y="511" width="3" height="1" fill="#000"/>
<rect x="755" y="511" width="3" height="1" fill="#000"/>
<rect x="761" y="511" width="3" height="1" fill="#000"/>
<rect x="767" y="511" width="3" height="1" fill="#000"/>
<rect x="773" y="511" width="3" height="1" fill="#000"/>
<rect x="779" y="511" width="3" height="1" fill="#000"/>
<rect x="785" y="511" width="3" height="1" fill="#000"/>
<rect x="791" y="511" width="3" height="1" fill="#000"/>
<rect x="797" y="511" width="3" height="1" fill="#000"/>
<rect x="803" y="511" width="3" height="1" fill="#000"/>
<rect x="809" y="511" width="3" height="1" fill="#000"/>
<rect x="815" y="511" width="3" height="1" fill="#000"/>
<rect x="821" y="511" width="3" height="1" fill="#000"/>
<rect x="827" y="511" width="3" height="1" fill="#000"/>
<rect x="833" y="511" width="3" height="1" fill="#000"/>
<rect x="839" y="511" width="3" height="1" fill="#000"/>
<rect x="845" y="511" width="3" height="1" fill="#000"/>
<rect x="851" y="511" width="3" height="1" fill="#000"/>
<rect x="857" y="511" width="3" height="1" fill="#000"/>
<rect x="863" y="511" width="3" height="1" fill="#000"/>
<rect x="869" y="511" width="3" height="1" fill="#000"/>
<rect x="875" y="511" width="3" height="1" fill="#000"/>
<rect x="881" y="511" width="3" height="1" fill="#000"/>
<rect x="887" y="511" width="3" height="1" fill="#000"/>
<rect x="893" y="511" width="3" height="1" fill="#000"/>
<rect x="899" y="511" width="3" height="1" fill="#000"/>
<rect x="905" y="511" width="3" height="1" fill="#000"/>
<rect x="911" y="511" width="3" height="1" fill="#000"/>
<rect x="917" y="511" width="3" height="1" fill="#000"/>
<rect x="923" y="511" width="3" height="1" fill="#000"/>
<rect x="929" y="511" width="3" height="1" fill="#000"/>
<rect x="935" y="511" width="3" height="1" fill="#000"/>
<rect x="941" y="511" width="3" height="1" fill="#000"/>
<rect x="947" y="511" width="3" height="1" fill="#000"/>
<rect x="953" y="511" width="3" height="1" fill="#000"/>
<rect x="959" y="511" width="3" height="1" fill="#000"/>
<rect x="965" y="511" width="3" height="1" fill="#000"/>
<rect x="971" y="511" width="3" height="1" fill="#000"/>
<rect x="977" y="511" width="3" height="1" fill="#000"/>
<rect x="983" y="511" width="3" height="1" fill="#000"/>
<rect x="989" y="511" width="3" height="1" fill="#000"/>
<rect x="995" y="511" width="3" height="1" fill="#000"/>
<rect x="1001" y="511" width="3" height="1" fill="#000"/>
<rect x="1007" y="511" width="3" height="1" fill="#000"/>
<rect x="1013" y="511" width="3" height="1" fill="#000"/>
<rect x="1019" y="511" width="3" height="1" fill="#000"/>
<rect x="1025" y="511" width="3" height="1" fill="#000"/>
<rect x="1031" y="511" width="3" height="1" fill="#000"/>
<rect x="1037" y="511" width="3" height="1" fill="#000"/>
<rect x="1043" y="511" width="3" height="1" fill="#000"/>
<rect x="1049" y="511" width="3" height="1" fill="#000"/>
<rect x="1055" y="511" width="3" height="1" fill="#000"/>
<rect x="1061" y="511" width="3" height="1" fill="#000"/>
<rect x="1067" y="511" width="3" height="1" fill="#000"/>
<rect x="1073" y="511" width="3" height="1" fill="#000"/>
<rect x="1079" y="511" width="3" height="1" fill="#000"/>
<rect x="1085" y="511" width="3" height="1" fill="#000"/>
<rect x="1091" y="511" width="3" height="1" fill="#000"/>
<rect x="1097" y="511" width="3" height="1" fill="#000"/>
<rect x="1103" y="511" width="3" height="1" fill="#000"/>
<rect x="1109" y="511" width="3" height="1" fill="#000"/>
<rect x="1115" y="511" width="3" height="1" fill="#000"/>
<rect x="1121" y="511" width="3" height="1" fill="#000"/>
<rect x="1127" y="511" width="3" height="1" fill="#000"/>
<rect x="1133" y="511" width="3" height="1" fill="#000"/>
<rect x="1139" y="511" width="3" height="1" fill="#000"/>
<rect x="1145" y="511" width="3" height="1" fill="#000"/>
<rect x="1151" y="511" width="3" height="1" fill="#000"/>
<rect x="1157" y="511" width="3" height="1" fill="#000"/>
<rect x="1163" y="511" width="3" height="1" fill="#000"/>
<rect x="5" y="530" width="3" height="1" fill="#000"/>
<rect x="11" y="530" width="3" height="1" fill="#000"/>
<rect x="17" y="530" width="3" height="1" fill="#000"/>
<rect x="23" y="530" width="3" height="1" fill="#000"/>
<rect x="29" y="530" width="3" height="1" fill="#000"/>
<rect x="35" y="530" width="3" height="1" fill="#000"/>
<rect x="41" y="530" width="3" height="1" fill="#000"/>
<rect x="47" y="530" width="3" height="1" fill="#000"/>
<rect x="53" y="530" width="3" height="1" fill="#000"/>
<rect x="59" y="530" width="3" height="1" fill="#000"/>
<rect x="65" y="530" width="3" height="1" fill="#000"/>
<rect x="71" y="530" width="3" height="1" fill="#000"/>
<rect x="77" y="530" width="3" height="1" fill="#000"/>
<rect x="83" y="530" width="3" height="1" fill="#000"/>
<rect x="89" y="530" width="3" height="1" fill="#000"/>
<rect x="95" y="530" width="3" height="1" fill="#000"/>
<rect x="101" y="530" width="3" height="1" fill="#000"/>
<rect x="107" y="530" width="3" height="1" fill="#000"/>
<rect x="113" y="530" width="3" height="1" fill="#000"/>
<rect x="119" y="530" width="3" height="1" fill="#000"/>
<rect x="125" y="530" width="3" height="1" fill="#000"/>
<rect x="131" y="530" width="3" height="1" fill="#000"/>
<rect x="137" y="530" width="3" height="1" fill="#000"/>
<rect x="143" y="530" width="3" height="1" fill="#000"/>
<rect x="149" y="530" width="3" height="1" fill="#000"/>
<rect x="155" y="530" width="3" height="1" fill="#000"/>
<rect x="161" y="530" width="3" height="1" fill="#000"/>
<rect x="167" y="530" width="3" height="1" fill="#000"/>
<rect x="173" y="530" width="3" height="1" fill="#000"/>
<rect x="179" y="530" width="3" height="1" fill="#000"/>
<rect x="185" y="530" width="3" height="1" fill="#000"/>
<rect x="191" y="530" width="3" height="1" fill="#000"/>
<rect x="197" y="530" width="3" height="1" fill="#000"/>
<rect x="203" y="530" width="3" height="1" fill="#000"/>
<rect x="209" y="530" width="3" height="1" fill="#000"/>
<rect x="215" y="530" width="3" height="1" fill="#000"/>
<rect x="221" y="530" width="3" height="1" fill="#000"/>
<rect x="227" y="530" width="3" height="1" fill="#000"/>
<rect x="233" y="530" width="3" height="1" fill="#000"/>
<rect x="239" y="530" width="3" height="1" fill="#000"/>
<rect x="245" y="530" width="3" height="1" fill="#000"/>
<rect x="251" y="530" width="3" height="1" fill="#000"/>
<rect x="257" y="530" width="3" height="1" fill="#000"/>
<rect x="263" y="530" width="3" height="1" fill="#000"/>
<rect x="269" y="530" width="3" height="1" fill="#000"/>
<rect x="275" y="530" width="3" height="1" fill="#000"/>
<rect x="281" y="530" width="3" height="1" fill="#000"/>
<rect x="287" y="530" width="3" height="1" fill="#000"/>
<rect x="293" y="530" width="3" height="1" fill="#000"/>
<rect x="299" y="530" width="3" height="1" fill="#000"/>
<rect x="305" y="530" width="3" height="1" fill="#000"/>
<rect x="311" y="530" width="3" height="1" fill="#000"/>
<rect x="317" y="530" width="3" height="1" fill="#000"/>
<rect x="323" y="530" width="3" height="1" fill="#000"/>
<rect x="329" y="530" width="3" height="1" fill="#000"/>
<rect x="335" y="530" width="3" height="1" fill="#000"/>
<rect x="341" y="530" width="3" height="1" fill="#000"/>
<rect x="347" y="530" width="3" height="1" fill="#000"/>
<rect x="353" y="530" width="3" height="1" fill="#000"/>
<rect x="359" y="530" width="3" height="1" fill="#000"/>
<rect x="365" y="530" width="3" height="1" fill="#000"/>
<rect x="371" y="530" width="3" height="1" fill="#000"/>
<rect x="377" y="530" width="3" height="1" fill="#000"/>
<rect x="383" y="530" width="3" height="1" fill="#000"/>
<rect x="389" y="530" width="3" height="1" fill="#000"/>
<rect x="395" y="530" width="3" height="1" fill="#000"/>
<rect x="401" y="530" width="3" height="1" fill="#000"/>
<rect x="407" y="530" width="3" height="1" fill="#000"/>
<rect x="413" y="530" width="3" height="1" fill="#000"/>
<rect x="419" y="530" width="3" height="1" fill="#000"/>
<rect x="425" y="530" width="3" height="1" fill="#000"/>
<rect x="431" y="530" width="3" height="1" fill="#000"/>
<rect x="437" y="530" width="3" height="1" fill="#000"/>
<rect x="443" y="530" width="3" height="1" fill="#000"/>
<rect x="449" y="530" width="3" height="1" fill="#000"/>
<rect x="455" y="530" width="3" height="1" fill="#000"/>
<rect x="461" y="530" width="3" height="1" fill="#000"/>
<rect x="467" y="530" width="3" height="1" fill="#000"/>
<rect x="473" y="530" width="3" height="1" fill="#000"/>
<rect x="479" y="530" width="3" height="1" fill="#000"/>
<rect x="485" y="530" width="3" height="1" fill="#000"/>
<rect x="491" y="530" width="3" height="1" fill="#000"/>
<rect x="497" y="530" width="3" height="1" fill="#000"/>
<rect x="503" y="530" width="3" height="1" fill="#000"/>
<rect x="509" y="530" width="3" height="1" fill="#000"/>
<rect x="515" y="530" width="3" height="1" fill="#000"/>
<rect x="521" y="530" width="3" height="1" fill="#000"/>
<rect x="527" y="530" width="3" height="1" fill="#000"/>
<rect x="533" y="530" width="3" height="1" fill="#000"/>
<rect x="539" y="530" width="3" height="1" fill="#000"/>
<rect x="545" y="530" width="3" height="1" fill="#000"/>
<rect x="551" y="530" width="3" height="1" fill="#000"/>
<rect x="557" y="530" width="3" height="1" fill="#000"/>
<rect x="563" y="530" width="3" height="1" fill="#000"/>
<rect x="569" y="530" width="3" height="1" fill="#000"/>
<rect x="575" y="530" width="3" height="1" fill="#000"/>
<rect x="581" y="530" width="3" height="1" fill="#000"/>
<rect x="587" y="530" width="3" height="1" fill="#000"/>
<rect x="593" y="530" width="3" height="1" fill="#000"/>
<rect x="599" y="530" width="3" height="1" fill="#000"/>
<rect x="605" y="530" width="3" height="1" fill="#000"/>
<rect x="611" y="530" width="3" height="1" fill="#000"/>
<rect x="617" y="530" width="3" height="1" fill="#000"/>
<rect x="623" y="530" width="3" height="1" fill="#000"/>
<rect x="629" y="530" width="3" height="1" fill="#000"/>
<rect x="635" y="530" width="3" height="1" fill="#000"/>
<rect x="641" y="530" width="3" height="1" fill="#000"/>
<rect x="647" y="530" width="3" height="1" fill="#000"/>
<rect x="653" y="530" width="3" height="1" fill="#000"/>
<rect x="659" y="530" width="3" height="1" fill="#000"/>
<rect x="665" y="530" width="3" height="1" fill="#000"/>
<rect x="671" y="530" width="3" height="1" fill="#000"/>
<rect x="677" y="530" width="3" height="1" fill="#000"/>
<rect x="683" y="530" width="3" height="1" fill="#000"/>
<rect x="689" y="530" width="3" height="1" fill="#000"/>
<rect x="695" y="530" width="3" height="1" fill="#000"/>
<rect x="701" y="530" width="3" height="1" fill="#000"/>
<rect x="707" y="530" width="3" height="1" fill="#000"/>
<rect x="713" y="530" width="3" height="1" fill="#000"/>
<rect x="719" y="530" width="3" height="1" fill="#000"/>
<rect x="725" y="530" width="3" height="1" fill="#000"/>
<rect x="731" y="530" width="3" height="1" fill="#000"/>
<rect x="737" y="530" width="3" height="1" fill="#000"/>
<rect x="743" y="530" width="3" height="1" fill="#000"/>
<rect x="749" y="530" width="3" height="1" fill="#000"/>
<rect x="755" y="530" width="3" height="1" fill="#000"/>
<rect x="761" y="530" width="3" height="1" fill="#000"/>
<rect x="767" y="530" width="3" height="1" fill="#000"/>
<rect x="773" y="530" width="3" height="1" fill="#000"/>
<rect x="779" y="530" width="3" height="1" fill="#000"/>
<rect x="785" y="530" width="3" height="1" fill="#000"/>
<rect x="791" y="530" width="3" height="1" fill="#000"/>
<rect x="797" y="530" width="3" height="1" fill="#000"/>
<rect x="803" y="530" width="3" height="1" fill="#000"/>
<rect x="809" y="530" width="3" height="1" fill="#000"/>
<rect x="815" y="530" width="3" height="1" fill="#000"/>
<rect x="821" y="530" width="3" height="1" fill="#000"/>
<rect x="827" y="530" width="3" height="1" fill="#000"/>
<rect x="833" y="530" width="3" height="1" fill="#000"/>
<rect x="839" y="530" width="3" height="1" fill="#000"/>
<rect x="845" y="530" width="3" height="1" fill="#000"/>
<rect x="851" y="530" width="3" height="1" fill="#000"/>
<rect x="857" y="530" width="3" height="1" fill="#000"/>
<rect x="863" y="530" width="3" height="1" fill="#000"/>
<rect x="869" y="530" width="3" height="1" fill="#000"/>
<rect x="875" y="530" width="3" height="1" fill="#000"/>
<rect x="881" y="530" width="3" height="1" fill="#000"/>
<rect x="887" y="530" width="3" height="1" fill="#000"/>
<rect x="893" y="530" width="3" height="1" fill="#000"/>
<rect x="899" y="530" width="3" height="1" fill="#000"/>
<rect x="905" y="530" width="3" height="1" fill="#000"/>
<rect x="911" y="530" width="3" height="1" fill="#000"/>
<rect x="917" y="530" width="3" height="1" fill="#000"/>
<rect x="923" y="530" width="3" height="1" fill="#000"/>
<rect x="929" y="530" width="3" height="1" fill="#000"/>
<rect x="935" y="530" width="3" height="1" fill="#000"/>
<rect x="941" y="530" width="3" height="1" fill="#000"/>
<rect x="947" y="530" width="3" height="1" fill="#000"/>
<rect x="953" y="530" width="3" height="1" fill="#000"/>
<rect x="959" y="530" width="3" height="1" fill="#000"/>
<rect x="965" y="530" width="3" height="1" fill="#000"/>
<rect x="971" y="530" width="3" height="1" fill="#000"/>
<rect x="977" y="530" width="3" height="1" fill="#000"/>
<rect x="983" y="530" width="3" height="1" fill="#000"/>
<rect x="989" y="530" width="3" height="1" fill="#000"/>
<rect x="995" y="530" width="3" height="1" fill="#000"/>
<rect x="1001" y="530" width="3" height="1" fill="#000"/>
<rect x="1007" y="530" width="3" height="1" fill="#000"/>
<rect x="1013" y="530" width="3" height="1" fill="#000"/>
<rect x="1019" y="530" width="3" height="1" fill="#000"/>
<rect x="1025" y="530" width="3" height="1" fill="#000"/>
<rect x="1031" y="530" width="3" height="1" fill="#000"/>
<rect x="1037" y="530" width="3" height="1" fill="#000"/>
<rect x="1043" y="530" width="3" height="1" fill="#000"/>
<rect x="1049" y="530" width="3" height="1" fill="#000"/>
<rect x="1055" y="530" width="3" height="1" fill="#000"/>
<rect x="1061" y="530" width="3" height="1" fill="#000"/>
<rect x="1067" y="530" width="3" height="1" fill="#000"/>
<rect x="1073" y="530" width="3" height="1" fill="#000"/>
<rect x="1079" y="530" width="3" height="1" fill="#000"/>
<rect x="1085" y="530" width="3" height="1" fill="#000"/>
<rect x="1091" y="530" width="3" height="1" fill="#000"/>
<rect x="1097" y="530" width="3" height="1" fill="#000"/>
<rect x="1103" y="530" width="3" height="1" fill="#000"/>
<rect x="1109" y="530" width="3" height="1" fill="#000"/>
<rect x="1115" y="530" width="3" height="1" fill="#000"/>
<rect x="1121" y="530" width="3" height="1" fill="#000"/>
<rect x="1127" y="530" width="3" height="1" fill="#000"/>
<rect x="1133" y="530" width="3" height="1" fill="#000"/>
<rect x="1139" y="530" width="3" height="1" fill="#000"/>
<rect x="1145" y="530" width="3" height="1" fill="#000"/>
<rect x="1151" y="530" width="3" height="1" fill="#000"/>
<rect x="1157" y="530" width="3" height="1" fill="#000"/>
<rect x="1163" y="530" width="3" height="1" fill="#000"/>
<rect x="4" y="99" width="6" height="6" fill="#ff0000"/>
<rect x="6" y="101" width="2" height="2" fill="#fff"/>
<rect x="4" y="163" width="6" height="6" fill="#ff0000"/>
<rect x="6" y="165" width="2" height="2" fill="#fff"/>
<rect x="4" y="227" width="6" height="6" fill="#ff0000"/>
<rect x="6" y="229" width="2" height="2" fill="#fff"/>
<rect x="4" y="291" width="6" height="6" fill="#00ff00"/>
<rect x="6" y="293" width="2" height="2" fill="#fff"/>
<rect x="4" y="370" width="6" height="6" fill="#0000ff"/>
<rect x="6" y="372" width="2" height="2" fill="#fff"/>
</g>
<polygon points="939,341.3 962,365.7 965.3,364.4 968.6,381.7 953.9,373.4 955.5,371" fill="#2e862e"/>
<polygon points="928.5,24 938.5,24 933.5,29.2" fill="#000"/>
<polygon points="8,30 15.3,30 11.65,33.8" fill="#000"/>
<polyline shape-rendering="crispEdges" fill="none" stroke="#ff0000" stroke-width="2" stroke-linejoin="round" points="5,481.8 20,480.4 30,479.2 40,477.9 50,476 60,474 70,472.2 80,471.2 89,469.9 99,468.8 109,467.8 119,466.8 129,466 157,466 170,468.3 190,470.8 210,472.2 230,473.8 250,473.8 268,473.8 270,474.9 284,474.9 286,475.8 292,475.8 294,476.9 300,476.9 302,477.8 308,477.8 310,478.9 316,478.9 318,479.8 320,479.8 322,481.1 324,481.1 326,481.8 332,481.8 334,482.7 340,482.7 342,483.8 381,483.8 383,482.7 400,482.7 420,482.4 440,481.4 453,480.4 465,477.8 475,475.4 485,472.8 495,469.4 505,465.9 513,462.9 525,459.5 535,457.9 545,455.9 555,454.9 570,453.9 582,454.3 590,455.3 600,456.3 610,458.3 620,460.9 630,463.5 640,464.9 650,467.9 660,469.2 670,469.8 685,469.8 690,468.8 700,468.5 710,467.5 720,466.7 750,466.7 755,467.9 765,468.8 775,471.4 785,473.4 790,474.8 797,477.2 805,479.2 813,481.2 821,483.7 829,486.1 837,487.3 845,487.7 869,487.7 877,486.7 885,485.7 893,483.7 901,481.8 909,479.8 917,477.8"/>
<polyline shape-rendering="crispEdges" fill="none" stroke="#1e90ff" stroke-width="2" stroke-linejoin="round" points="5,521 13,522 21,522.5 29,523 53,523 54,524 79,524 85,519.3 90,517.5 94,516.8 101,520.7 117,520.7 125,524.1 131,525.8 141,526.3 143,527.1 157,527.1 159,526 173,526 178,527.5 182,527.5 187,525.2 191,525.2 195,526.9 213,526.9 215,527.8 229,527.8 236,524.8 240,523.7 245,523.7 250,525.8 264,525.8 269,528 276,530.1 285,532.7 295,532.7 301,530.1 308,530.1 310,531.2 325,531.2 333,526.3 336,526.3 338,527.1 381,527.1 389,530.8 393,530.8 397,529.5 400,528.6 409,528.6 414,526.9 420,522.6 423,522.6 427,524.8 430,524.8 436,522 452,522 461,516.8 472,516.8 475,517.9 485,517.9 487,516.8 504,516.8 508,515.9 512,515.9 517,517.6 523,519.8 527,519.8 531,517.9 549,517.9 555,520 564,520 567,518.9 572,518.9 581,522.2 590,525.8 596,525.8 603,527.8 613,527.8 615,526.9 620,526.9 628,522.5 632,522.4 634,523.5 653,523.5 656,522.8 660,522.8 662,521.7 673,521.7 675,522.6 681,522.6 687,520.7 704,520.7 709,523.5 714,524.5 729,524.5 731,525.6 741,525.6 743,524.8 749,524.8 757,530.1 765,531.2 767,531.9 788,531.9 793,533.6 822,533.6 829,529.7 835,529.7 838,528.4 845,527.3 852,523.2 857,523.2 859,523.9 865,523.9 867,523.2 896,523.2 899,524.9 904,524.9 907,523.2 917.5,523.2"/>
<text transform="translate(20.5 35) scale(1 1.0) rotate(0.03)" font-size="9.8" fill="#000" textLength="213.4" lengthAdjust="spacingAndGlyphs" xml:space="preserve" stroke="#000" stroke-width="0.3">EURUSD-,Daily  1.02049 1.02111 1.01855 1.01862</text>
<text transform="translate(9.4 462.5) scale(1 1.0) rotate(0.03)" font-size="9.8" fill="#000" textLength="153.5" lengthAdjust="spacingAndGlyphs" stroke="#000" stroke-width="0.3">MACD(12,26,9) -0.005072 -0.007415</text>
<text transform="translate(9 509) scale(1 1.0) rotate(0.03)" font-size="9.8" fill="#000" textLength="67.5" lengthAdjust="spacingAndGlyphs" stroke="#000" stroke-width="0.3">RSI(14) 45.3315</text>
<text transform="translate(1173.4 53) scale(1 1.0) rotate(0.03)" font-size="9.8" fill="#000" textLength="32.4" lengthAdjust="spacingAndGlyphs" stroke="#000" stroke-width="0.3">1.11680</text>
<text transform="translate(1173.4 86) scale(1 1.0) rotate(0.03)" font-size="9.8" fill="#000" textLength="32.4" lengthAdjust="spacingAndGlyphs" stroke="#000" stroke-width="0.3">1.10660</text>
<text transform="translate(1173.4 119) scale(1 1.0) rotate(0.03)" font-size="9.8" fill="#000" textLength="32.4" lengthAdjust="spacingAndGlyphs" stroke="#000" stroke-width="0.3">1.09610</text>
<text transform="translate(1173.4 152) scale(1 1.0) rotate(0.03)" font-size="9.8" fill="#000" textLength="32.4" lengthAdjust="spacingAndGlyphs" stroke="#000" stroke-width="0.3">1.08590</text>
<text transform="translate(1173.4 185) scale(1 1.0) rotate(0.03)" font-size="9.8" fill="#000" textLength="32.4" lengthAdjust="spacingAndGlyphs" stroke="#000" stroke-width="0.3">1.07540</text>
<text transform="translate(1173.4 218) scale(1 1.0) rotate(0.03)" font-size="9.8" fill="#000" textLength="32.4" lengthAdjust="spacingAndGlyphs" stroke="#000" stroke-width="0.3">1.06520</text>
<text transform="translate(1173.4 251) scale(1 1.0) rotate(0.03)" font-size="9.8" fill="#000" textLength="32.4" lengthAdjust="spacingAndGlyphs" stroke="#000" stroke-width="0.3">1.05470</text>
<text transform="translate(1173.4 284) scale(1 1.0) rotate(0.03)" font-size="9.8" fill="#000" textLength="32.4" lengthAdjust="spacingAndGlyphs" stroke="#000" stroke-width="0.3">1.04450</text>
<text transform="translate(1173.4 317) scale(1 1.0) rotate(0.03)" font-size="9.8" fill="#000" textLength="32.4" lengthAdjust="spacingAndGlyphs" stroke="#000" stroke-width="0.3">1.03430</text>
<text transform="translate(1173.4 350) scale(1 1.0) rotate(0.03)" font-size="9.8" fill="#000" textLength="32.4" lengthAdjust="spacingAndGlyphs" stroke="#000" stroke-width="0.3">1.02380</text>
<text transform="translate(1173.4 383) scale(1 1.0) rotate(0.03)" font-size="9.8" fill="#000" textLength="32.4" lengthAdjust="spacingAndGlyphs" stroke="#000" stroke-width="0.3">1.01360</text>
<text transform="translate(1173.4 416) scale(1 1.0) rotate(0.03)" font-size="9.8" fill="#000" textLength="32.4" lengthAdjust="spacingAndGlyphs" stroke="#000" stroke-width="0.3">1.00310</text>
<text transform="translate(1173.4 449) scale(1 1.0) rotate(0.03)" font-size="9.8" fill="#000" textLength="32.4" lengthAdjust="spacingAndGlyphs" stroke="#000" stroke-width="0.3">0.99290</text>
<text transform="translate(1172 461) scale(1 1.0) rotate(0.03)" font-size="9.8" fill="#000" textLength="31.8" lengthAdjust="spacingAndGlyphs" stroke="#000" stroke-width="0.3">0.00399</text>
<text transform="translate(1172 464) scale(1 1.0) rotate(0.03)" font-size="9.8" fill="#000" textLength="16.4" lengthAdjust="spacingAndGlyphs" stroke="#000" stroke-width="0.3">0.00</text>
<text transform="translate(1171.3 491) scale(1 1.0) rotate(0.03)" font-size="9.8" fill="#000" textLength="40.8" lengthAdjust="spacingAndGlyphs" stroke="#000" stroke-width="0.3">-0.014691</text>
<text transform="translate(1171.3 507) scale(1 1.0) rotate(0.03)" font-size="9.8" fill="#000" textLength="14.5" lengthAdjust="spacingAndGlyphs" stroke="#000" stroke-width="0.3">100</text>
<text transform="translate(1170.6 515) scale(1 1.0) rotate(0.03)" font-size="9.8" fill="#000" textLength="9.2" lengthAdjust="spacingAndGlyphs" stroke="#000" stroke-width="0.3">70</text>
<text transform="translate(1170.6 534) scale(1 1.0) rotate(0.03)" font-size="9.8" fill="#000" textLength="9.2" lengthAdjust="spacingAndGlyphs" stroke="#000" stroke-width="0.3">30</text>
<text transform="translate(1171 541) scale(1 1.0) rotate(0.03)" font-size="9.8" fill="#000" textLength="4.7" lengthAdjust="spacingAndGlyphs" stroke="#000" stroke-width="0.3">0</text>
<text transform="translate(1173.4 105) scale(1 1.0) rotate(0.03)" font-size="9.8" fill="#fff" textLength="32.4" lengthAdjust="spacingAndGlyphs" stroke="#fff" stroke-width="0.3">1.10017</text>
<text transform="translate(1173.4 169) scale(1 1.0) rotate(0.03)" font-size="9.8" fill="#fff" textLength="32.4" lengthAdjust="spacingAndGlyphs" stroke="#fff" stroke-width="0.3">1.08011</text>
<text transform="translate(1173.4 233) scale(1 1.0) rotate(0.03)" font-size="9.8" fill="#fff" textLength="32.4" lengthAdjust="spacingAndGlyphs" stroke="#fff" stroke-width="0.3">1.06007</text>
<text transform="translate(1173.4 297) scale(1 1.0) rotate(0.03)" font-size="9.8" fill="#fff" textLength="32.4" lengthAdjust="spacingAndGlyphs" stroke="#fff" stroke-width="0.3">1.04016</text>
<text transform="translate(1173.4 367) scale(1 1.0) rotate(0.03)" font-size="9.8" fill="#fff" textLength="32.4" lengthAdjust="spacingAndGlyphs" stroke="#fff" stroke-width="0.3">1.01862</text>
<rect x="1169" y="367" width="39" height="11" fill="#0000ff"/>
<text transform="translate(1173.4 376) scale(1 1.0) rotate(0.03)" font-size="9.8" fill="#fff" textLength="32.4" lengthAdjust="spacingAndGlyphs" stroke="#fff" stroke-width="0.3">1.01531</text>
<text transform="translate(4.6 557) scale(1 1.0) rotate(0.03)" font-size="9.8" fill="#000" textLength="51" lengthAdjust="spacingAndGlyphs" stroke="#000" stroke-width="0.3">17 Mar 2022</text>
<text transform="translate(68.6 557) scale(1 1.0) rotate(0.03)" font-size="9.8" fill="#000" textLength="51" lengthAdjust="spacingAndGlyphs" stroke="#000" stroke-width="0.3">27 Mar 2022</text>
<text transform="translate(132.6 557) scale(1 1.0) rotate(0.03)" font-size="9.8" fill="#000" textLength="44.2" lengthAdjust="spacingAndGlyphs" stroke="#000" stroke-width="0.3">5 Apr 2022</text>
<text transform="translate(196.6 557) scale(1 1.0) rotate(0.03)" font-size="9.8" fill="#000" textLength="49.7" lengthAdjust="spacingAndGlyphs" stroke="#000" stroke-width="0.3">14 Apr 2022</text>
<text transform="translate(260.6 557) scale(1 1.0) rotate(0.03)" font-size="9.8" fill="#000" textLength="49.7" lengthAdjust="spacingAndGlyphs" stroke="#000" stroke-width="0.3">24 Apr 2022</text>
<text transform="translate(324.6 557) scale(1 1.0) rotate(0.03)" font-size="9.8" fill="#000" textLength="48.3" lengthAdjust="spacingAndGlyphs" stroke="#000" stroke-width="0.3">3 May 2022</text>
<text transform="translate(388.6 557) scale(1 1.0) rotate(0.03)" font-size="9.8" fill="#000" textLength="54" lengthAdjust="spacingAndGlyphs" stroke="#000" stroke-width="0.3">12 May 2022</text>
<text transform="translate(452.6 557) scale(1 1.0) rotate(0.03)" font-size="9.8" fill="#000" textLength="53.6" lengthAdjust="spacingAndGlyphs" stroke="#000" stroke-width="0.3">22 May 2022</text>
<text transform="translate(516.6 557) scale(1 1.0) rotate(0.03)" font-size="9.8" fill="#000" textLength="53.6" lengthAdjust="spacingAndGlyphs" stroke="#000" stroke-width="0.3">31 May 2022</text>
<text transform="translate(580.6 557) scale(1 1.0) rotate(0.03)" font-size="9.8" fill="#000" textLength="44" lengthAdjust="spacingAndGlyphs" stroke="#000" stroke-width="0.3">9 Jun 2022</text>
<text transform="translate(644.6 557) scale(1 1.0) rotate(0.03)" font-size="9.8" fill="#000" textLength="49.4" lengthAdjust="spacingAndGlyphs" stroke="#000" stroke-width="0.3">19 Jun 2022</text>
<text transform="translate(708.6 557) scale(1 1.0) rotate(0.03)" font-size="9.8" fill="#000" textLength="49.6" lengthAdjust="spacingAndGlyphs" stroke="#000" stroke-width="0.3">28 Jun 2022</text>
<text transform="translate(772.6 557) scale(1 1.0) rotate(0.03)" font-size="9.8" fill="#000" textLength="41" lengthAdjust="spacingAndGlyphs" stroke="#000" stroke-width="0.3">7 Jul 2022</text>
<text transform="translate(836.6 557) scale(1 1.0) rotate(0.03)" font-size="9.8" fill="#000" textLength="46" lengthAdjust="spacingAndGlyphs" stroke="#000" stroke-width="0.3">17 Jul 2022</text>
<text transform="translate(900.6 557) scale(1 1.0) rotate(0.03)" font-size="9.8" fill="#000" textLength="46.3" lengthAdjust="spacingAndGlyphs" stroke="#000" stroke-width="0.3">26 Jul 2022</text>
</svg>
</body></html>
